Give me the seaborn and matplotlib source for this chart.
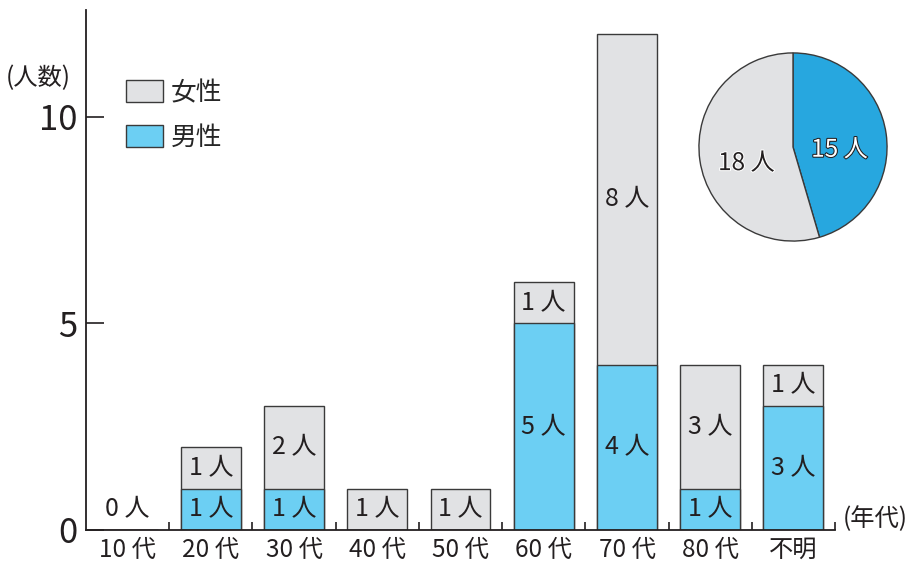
import numpy as np
import pandas as pd
import matplotlib
matplotlib.use("Agg")
import matplotlib.pyplot as plt
import matplotlib.patheffects as pe
from matplotlib.patches import Patch
from matplotlib.ticker import FixedLocator
import seaborn as sns

# data
ages = ["10 代", "20 代", "30 代", "40 代", "50 代", "60 代", "70 代", "80 代", "不明"]
male = [0, 1, 1, 0, 0, 5, 4, 1, 3]
female = [0, 1, 2, 1, 1, 1, 8, 3, 1]
pie_labels = ["15 人", "18 人"]
pie_values = [15, 18]

MALE_C = "#6ccff3"
FEMALE_C = "#e1e2e4"
PIE_MALE_C = "#27a7df"
EDGE = "#3a3a3a"
TXT = "#231f20"

sns.set_style("ticks")
plt.rcParams["font.family"] = ["Noto Sans CJK JP", "DejaVu Sans"]

df = pd.DataFrame({"age": ages, "male": male, "female": female})
df["total"] = df["male"] + df["female"]

fig = plt.figure(figsize=(9.12, 5.64), dpi=100)
ax = fig.add_axes([0.0943, 0.0603, 0.8213, 0.922])

sns.barplot(data=df, x="age", y="total", color=FEMALE_C, width=0.72,
            edgecolor=EDGE, linewidth=1.0, saturation=1, ax=ax)
sns.barplot(data=df, x="age", y="male", color=MALE_C, width=0.72,
            edgecolor=EDGE, linewidth=1.0, saturation=1, ax=ax)

# segment labels
LBL = 18
for i, row in df.iterrows():
    if row["total"] == 0:
        ax.text(i, 0.5, "0 人", ha="center", va="center", fontsize=LBL, color=TXT)
        continue
    if row["male"] > 0:
        ax.text(i, row["male"] / 2, f"{row['male']} 人", ha="center", va="center",
                fontsize=LBL, color=TXT)
    if row["female"] > 0:
        ax.text(i, row["male"] + row["female"] / 2, f"{row['female']} 人",
                ha="center", va="center", fontsize=LBL, color=TXT)

ax.set_xlim(-0.5, len(ages) - 0.5)
ax.set_ylim(0, 12.59)
ax.set_xlabel("")
ax.set_ylabel("")
ax.set_yticks([0, 5, 10])
ax.tick_params(axis="y", direction="in", length=13, width=1.2, labelsize=25,
               pad=6, colors=TXT)
ax.tick_params(axis="x", which="major", length=0, labelsize=17.5, pad=5, colors=TXT)
ax.xaxis.set_minor_locator(FixedLocator(np.arange(0.5, len(ages), 1.0)))
ax.tick_params(axis="x", which="minor", direction="in", length=6, width=1.2, color=TXT)
sns.despine(ax=ax)
for s in ("left", "bottom"):
    ax.spines[s].set_linewidth(1.3)
    ax.spines[s].set_color(TXT)

fig.text(6 / 912, 1 - 78 / 564, "(人数)", ha="left", va="center", fontsize=17.5, color=TXT)
fig.text(843 / 912, 1 - 519 / 564, "(年代)", ha="left", va="center", fontsize=17.5, color=TXT)

ax.legend(handles=[Patch(facecolor=FEMALE_C, edgecolor=EDGE, label="女性"),
                   Patch(facecolor=MALE_C, edgecolor=EDGE, label="男性")],
          loc="upper left", bbox_to_anchor=(126 / 912, 1 - 80 / 564),
          bbox_transform=fig.transFigure, frameon=False, fontsize=18.5,
          handlelength=1.45, handleheight=0.9, handletextpad=0.3,
          labelspacing=0.74, borderpad=0, borderaxespad=0)

# pie of totals
pax = fig.add_axes([698 / 912, 1 - 242 / 564, 190 / 912, 190 / 564])
wedges, _ = pax.pie(pie_values, colors=[PIE_MALE_C, FEMALE_C], startangle=90,
                    counterclock=False, radius=1,
                    wedgeprops=dict(edgecolor=EDGE, linewidth=1.0))
for w, lab, fc, sc in zip(wedges, pie_labels, ["white", TXT], [TXT, "white"]):
    ang = np.deg2rad((w.theta1 + w.theta2) / 2)
    pax.text(0.5 * np.cos(ang), 0.5 * np.sin(ang) - 0.1, lab, ha="center", va="center",
             fontsize=17.5, color=fc,
             path_effects=[pe.withStroke(linewidth=1.5, foreground=sc)])
pax.set_xlim(-1.01, 1.01)
pax.set_ylim(-1.01, 1.01)
pax.set_aspect("equal")
pax.axis("off")

fig.savefig("out.png", dpi=100)
